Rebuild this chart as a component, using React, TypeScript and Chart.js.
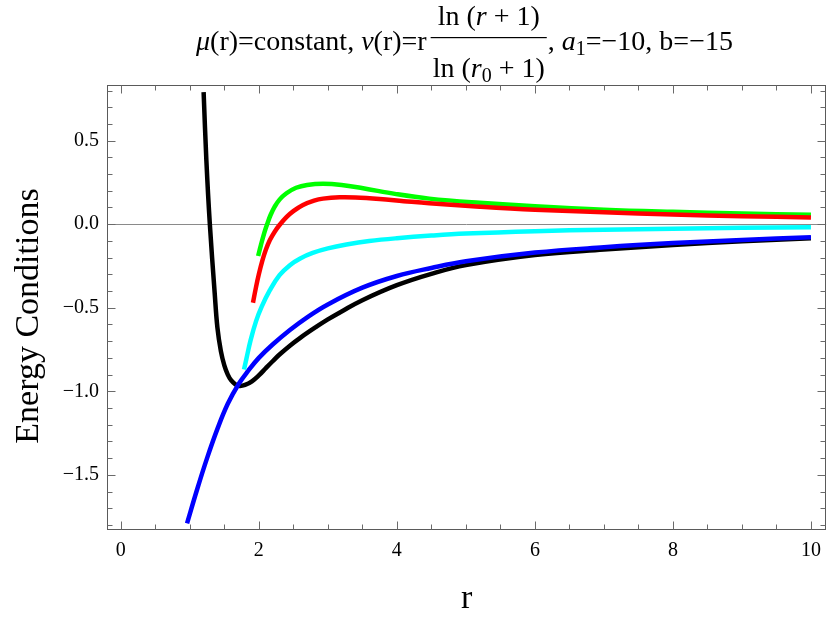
import React, { useEffect, useRef } from "react";
import { Chart, registerables } from "chart.js";

Chart.register(...registerables);

// ---- data ----
const redR = [1.915, 1.96, 2.0, 2.05, 2.1, 2.16, 2.23, 2.3, 2.4, 2.5, 2.64, 2.8, 2.93, 3.17, 3.4, 3.75, 4.1, 4.47, 5.2, 6.0, 7.0, 8.0, 9.0, 10.0];
const redV = [-0.47, -0.375, -0.3, -0.22, -0.155, -0.095, -0.045, -0.005, 0.042, 0.078, 0.115, 0.141, 0.153, 0.161, 0.16, 0.151, 0.138, 0.125, 0.105, 0.087, 0.071, 0.058, 0.048, 0.04];

const greenR = [1.99, 2.03, 2.08, 2.12, 2.17, 2.23, 2.3, 2.4, 2.54, 2.7, 2.93, 3.2, 3.51, 3.99, 4.47, 5.2, 6.0, 7.0, 8.0, 9.0, 10.0];
const greenV = [-0.19, -0.125, -0.05, 0.0, 0.055, 0.105, 0.147, 0.185, 0.218, 0.235, 0.242, 0.235, 0.215, 0.18, 0.153, 0.128, 0.107, 0.087, 0.074, 0.064, 0.056];

const cyanR = [1.785, 1.82, 1.88, 1.96, 2.04, 2.16, 2.3, 2.45, 2.6, 2.78, 3.0, 3.27, 3.6, 4.0, 4.5, 5.0, 6.0, 7.0, 8.0, 9.0, 10.0];
const cyanV = [-0.87, -0.805, -0.695, -0.58, -0.495, -0.395, -0.305, -0.245, -0.205, -0.172, -0.145, -0.122, -0.101, -0.084, -0.068, -0.056, -0.042, -0.033, -0.027, -0.022, -0.018];

const blueR = [0.96, 1.1, 1.25, 1.4, 1.55, 1.71, 1.85, 2.0, 2.2, 2.45, 2.7, 3.0, 3.5, 4.0, 4.5, 5.0, 6.0, 7.0, 8.0, 9.0, 10.0];
const blueV = [-1.79, -1.595, -1.4, -1.225, -1.075, -0.955, -0.875, -0.8, -0.72, -0.633, -0.557, -0.48, -0.38, -0.31, -0.262, -0.222, -0.17, -0.138, -0.113, -0.094, -0.078];

const blackR = [1.2, 1.24, 1.29, 1.36, 1.4, 1.45, 1.5, 1.55, 1.6, 1.66, 1.72, 1.8, 1.9, 2.0, 2.1, 2.2, 2.3, 2.45, 2.6, 2.83, 3.0, 3.2, 3.5, 4.0, 4.5, 5.0, 6.0, 7.0, 8.0, 9.0, 10.0];
const blackV = [0.79, 0.38, 0.0, -0.41, -0.62, -0.76, -0.845, -0.9, -0.935, -0.958, -0.968, -0.962, -0.94, -0.905, -0.862, -0.82, -0.78, -0.727, -0.68, -0.615, -0.57, -0.522, -0.455, -0.365, -0.297, -0.245, -0.185, -0.152, -0.125, -0.102, -0.084];

const xMajorTicks = [0, 2, 4, 6, 8, 10];
const yMajorTicks = [-1.5, -1.0, -0.5, 0.0, 0.5];
const xMinorTicks = [0.5, 1, 1.5, 2.5, 3, 3.5, 4.5, 5, 5.5, 6.5, 7, 7.5, 8.5, 9, 9.5];
const yMinorTicks = [-1.8, -1.7, -1.6, -1.4, -1.3, -1.2, -1.1, -0.9, -0.8, -0.7, -0.6, -0.4, -0.3, -0.2, -0.1, 0.1, 0.2, 0.3, 0.4, 0.6, 0.7, 0.8];

const X_MIN = -0.2;
const X_MAX = 10.22;
const Y_MIN = -1.83;
const Y_MAX = 0.833;

const SERIF = '"Liberation Serif", "Times New Roman", serif';

const pairs = (rs: number[], vs: number[]) => rs.map((r, i) => ({ x: r, y: vs[i] }));

const framePlugin = {
  id: "mmaFrame",
  beforeDatasetsDraw(chart: any) {
    const { ctx, chartArea, scales } = chart;
    const y0 = Math.round(scales.y.getPixelForValue(0)) + 0.5;
    ctx.save();
    ctx.strokeStyle = "#8a8a8a";
    ctx.lineWidth = 1;
    ctx.beginPath();
    ctx.moveTo(chartArea.left, y0);
    ctx.lineTo(chartArea.right, y0);
    ctx.stroke();
    ctx.restore();
  },
  afterDatasetsDraw(chart: any) {
    const { ctx, chartArea, scales } = chart;
    const { left, right, top, bottom } = chartArea;
    const L = Math.round(left) + 0.5;
    const R = Math.round(right) - 0.5;
    const T = Math.round(top) + 0.5;
    const B = Math.round(bottom) - 0.5;
    ctx.save();
    ctx.strokeStyle = "#5a5a5a";
    ctx.lineWidth = 1;
    ctx.strokeRect(L, T, R - L, B - T);
    const tick = (vals: number[], len: number) => {
      vals.forEach((v) => {
        const px = Math.round(scales.x.getPixelForValue(v)) + 0.5;
        ctx.beginPath();
        ctx.moveTo(px, B);
        ctx.lineTo(px, B - len);
        ctx.moveTo(px, T);
        ctx.lineTo(px, T + len);
        ctx.stroke();
      });
    };
    const ytick = (vals: number[], len: number) => {
      vals.forEach((v) => {
        const py = Math.round(scales.y.getPixelForValue(v)) + 0.5;
        ctx.beginPath();
        ctx.moveTo(L, py);
        ctx.lineTo(L + len, py);
        ctx.moveTo(R, py);
        ctx.lineTo(R - len, py);
        ctx.stroke();
      });
    };
    ctx.strokeStyle = "#6a6a6a";
    tick(xMajorTicks, 8);
    tick(xMinorTicks, 5);
    ytick(yMajorTicks, 8);
    ytick(yMinorTicks, 5);
    ctx.restore();
  },
};

const titlePlugin = {
  id: "mmaTitle",
  afterDraw(chart: any) {
    const ctx = chart.ctx;
    const size = 28;
    const up = `${size}px ${SERIF}`;
    const it = `italic ${size}px ${SERIF}`;
    const sub = `${Math.round(size * 0.7)}px ${SERIF}`;
    ctx.save();
    ctx.fillStyle = "#000";
    ctx.textBaseline = "alphabetic";
    ctx.textAlign = "left";
    type Piece = { t: string; f: string; dy?: number };
    const width = (ps: Piece[]) =>
      ps.reduce((w, p) => {
        ctx.font = p.f;
        return w + ctx.measureText(p.t).width;
      }, 0);
    const draw = (ps: Piece[], x: number, y: number) => {
      let cx = x;
      ps.forEach((p) => {
        ctx.font = p.f;
        ctx.fillText(p.t, cx, y + (p.dy || 0));
        cx += ctx.measureText(p.t).width;
      });
      return cx;
    };
    const baseY = 50;
    const leftPart: Piece[] = [
      { t: "\u03bc", f: it },
      { t: "(r)=constant, ", f: up },
      { t: "\u03bd", f: it },
      { t: "(r)=r", f: up },
    ];
    const num: Piece[] = [
      { t: "ln (", f: up },
      { t: "r", f: it },
      { t: " + 1)", f: up },
    ];
    const den: Piece[] = [
      { t: "ln (", f: up },
      { t: "r", f: it },
      { t: "0", f: sub, dy: 5 },
      { t: " + 1)", f: up },
    ];
    const rightPart: Piece[] = [
      { t: ", ", f: up },
      { t: "a", f: it },
      { t: "1", f: sub, dy: 5 },
      { t: "=\u221210, b=\u221215", f: up },
    ];
    const x = draw(leftPart, 196, baseY);
    const wd = width(den);
    const wn = width(num);
    const barW = Math.max(wd, wn) + 4;
    const barX = x + 4;
    const mid = barX + barW / 2;
    draw(num, mid - wn / 2, 25);
    draw(den, mid - wd / 2, 77);
    ctx.fillRect(barX, 37, barW, 1.2);
    draw(rightPart, barX + barW + 1, baseY);

    // y-axis title
    ctx.font = `34px ${SERIF}`;
    ctx.textAlign = "center";
    ctx.textBaseline = "middle";
    ctx.translate(29, 316);
    ctx.rotate(-Math.PI / 2);
    ctx.fillText("Energy Conditions", 0, 0);
    ctx.restore();
  },
};

export default function App() {
  const ref = useRef<HTMLCanvasElement | null>(null);
  useEffect(() => {
    if (!ref.current) return;
    const lineDs = (label: string, rs: number[], vs: number[], color: string) => ({
      label,
      data: pairs(rs, vs),
      borderColor: color,
      backgroundColor: color,
      borderWidth: 4.5,
      pointRadius: 0,
      fill: false,
      tension: 0.4,
      borderCapStyle: "butt" as const,
      borderJoinStyle: "round" as const,
    });
    const chart = new Chart(ref.current, {
      type: "line",
      data: {
        datasets: [
          lineDs("red", redR, redV, "#ff0000"),
          lineDs("green", greenR, greenV, "#00ff00"),
          lineDs("cyan", cyanR, cyanV, "#00ffff"),
          lineDs("blue", blueR, blueV, "#0000ff"),
          lineDs("black", blackR, blackV, "#000000"),
        ],
      },
      options: {
        animation: false,
        responsive: false,
        maintainAspectRatio: false,
        layout: { padding: { top: 85, right: 2, left: 0, bottom: 0 } },
        plugins: {
          legend: { display: false },
          tooltip: { enabled: false },
          title: { display: false },
        },
        scales: {
          x: {
            type: "linear",
            min: X_MIN,
            max: X_MAX,
            afterFit: (s: any) => {
              s.height = 87;
            },
            afterBuildTicks: (s: any) => {
              s.ticks = xMajorTicks.map((v) => ({ value: v }));
            },
            grid: { display: false, drawTicks: false },
            border: { display: false },
            ticks: {
              padding: 9,
              color: "#000",
              maxRotation: 0,
              autoSkip: false,
              font: { family: SERIF, size: 20 },
              callback: (v: any) => String(v),
            },
            title: {
              display: true,
              text: "r",
              color: "#000",
              font: { family: SERIF, size: 34 },
              padding: { top: 0, bottom: -2 },
            },
          },
          y: {
            type: "linear",
            min: Y_MIN,
            max: Y_MAX,
            afterFit: (s: any) => {
              s.width = 107;
            },
            afterBuildTicks: (s: any) => {
              s.ticks = yMajorTicks.map((v) => ({ value: v }));
            },
            grid: { display: false, drawTicks: false },
            border: { display: false },
            ticks: {
              padding: 8,
              color: "#000",
              autoSkip: false,
              font: { family: SERIF, size: 20 },
              callback: (v: any) => {
                const n = Number(v);
                const s = Math.abs(n).toFixed(1);
                return n < 0 ? "\u2212" + s : s;
              },
            },
            title: { display: false },
          },
        },
      },
      plugins: [framePlugin, titlePlugin],
    });
    return () => chart.destroy();
  }, []);
  return (
    <div style={{ position: "absolute", left: 0, top: 0, width: 830, height: 617, background: "#fff" }}>
      <canvas ref={ref} width={830} height={617} style={{ display: "block" }} />
    </div>
  );
}
